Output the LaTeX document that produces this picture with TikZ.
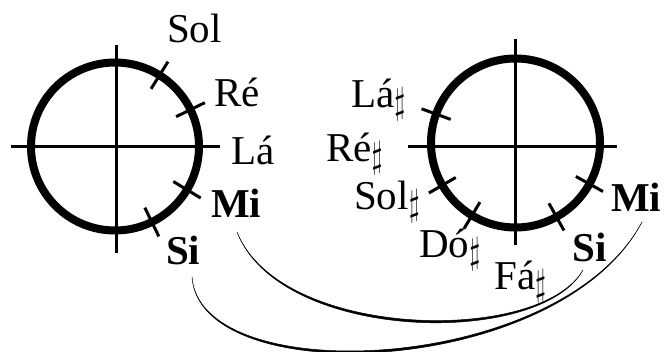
\documentclass[tikz,border=0pt]{standalone}
\usepackage{fontspec}
\usetikzlibrary{calc}
\setmainfont{Liberation Serif}
\newcommand{\shp}{\raisebox{-6pt}{\resizebox*{11pt}{33pt}{$\sharp$}}}
\begin{document}
\begin{tikzpicture}[x=1pt,y=-1pt,
  ring/.style={line width=8pt},
  axis/.style={line width=3pt},
  tick/.style={line width=3pt},
  lbl/.style={inner sep=0pt,anchor=base west,font=\fontsize{41}{48}\selectfont},
  blbl/.style={lbl,font=\fontsize{41}{48}\selectfont\bfseries},
  arc/.style={fill=black,draw=black,line width=0.5pt}]
\useasboundingbox (0,0) rectangle (667,352);
% left circle
\coordinate (L) at (115,146.5);
\draw[ring] (L) circle[radius=84];
\coordinate (Lh1) at (10.5,147); \coordinate (Lh2) at (220,147);
\coordinate (Lv1) at (116,45); \coordinate (Lv2) at (116,253);
\draw[axis] (Lh1) -- (Lh2);
\draw[axis] (Lv1) -- (Lv2);
\foreach \a in {58,26,-31,-64}
  \draw[tick] ($(L)+(\a:68 and -68)$) -- ($(L)+(\a:100 and -100)$);
% right circle
\coordinate (R) at (515.5,143);
\draw[ring] (R) circle[radius=84.5];
\coordinate (Rh1) at (408,147); \coordinate (Rh2) at (617,147);
\coordinate (Rv1) at (515,39); \coordinate (Rv2) at (515,245);
\draw[axis] (Rh1) -- (Rh2);
\draw[axis] (Rv1) -- (Rv2);
\foreach \a in {160,210,239,-61,-29}
  \draw[tick] ($(R)+(\a:69 and -69)$) -- ($(R)+(\a:100 and -100)$);
% left labels
\node[lbl] (sol) at (167,43) {Sol};
\node[lbl] (re) at (214,107) {Ré};
\node[lbl] (la) at (231,165) {Lá};
\node[blbl] (mi1) at (211,218) {Mi};
\node[blbl] (si1) at (166,265) {Si};
% right labels
\node[lbl] (lash) at (351,108) {Lá\shp};
\node[lbl] (resh) at (326,162) {Ré\shp};
\node[lbl] (solsh) at (354,210) {Sol\shp};
\node[lbl] (dosh) at (419,258) {Dó\shp};
\node[lbl] (fash) at (494,290) {Fá\shp};
\node[blbl] (si2) at (572,262) {Si};
\node[blbl] (mi2) at (611,212) {Mi};
% connectors
\coordinate (a1) at (237,232); \coordinate (a2) at (583,270);
\coordinate (b1) at (192,277); \coordinate (b2) at (642,222);
\filldraw[arc] (a1) .. controls (280,340) and (540,345) .. (a2)
   .. controls (540,348) and (280,343) .. (a1);
\filldraw[arc] (b1) .. controls (200,390) and (560,375) .. (b2)
   .. controls (560,378) and (200,393) .. (b1);
\end{tikzpicture}
\end{document}
